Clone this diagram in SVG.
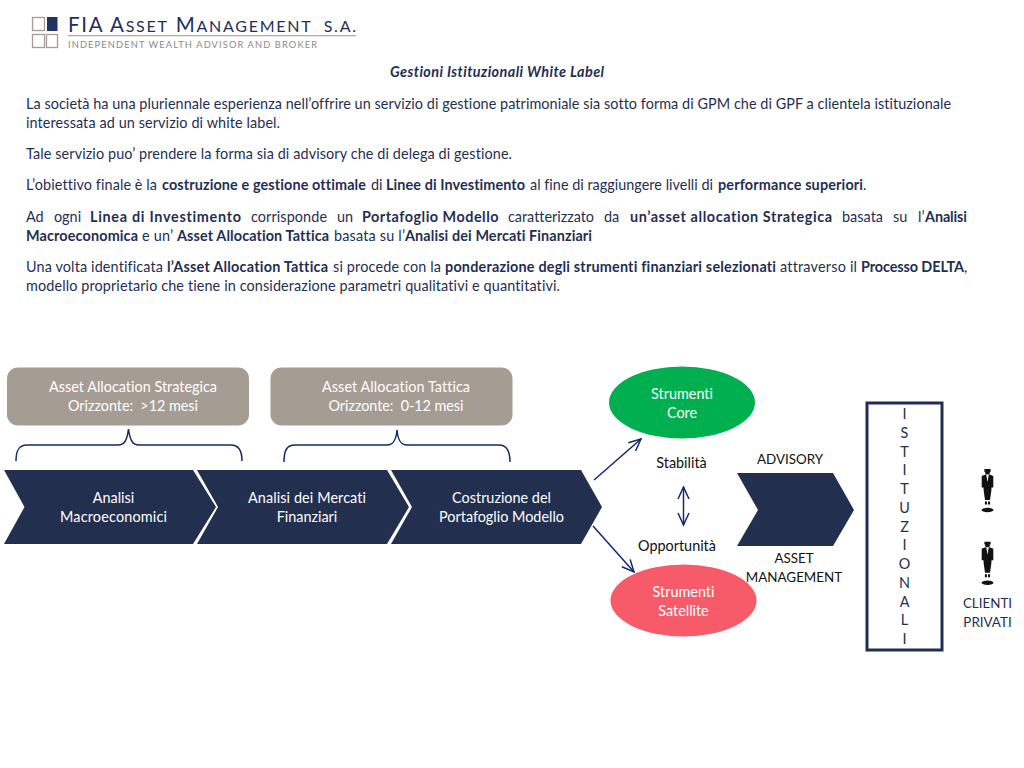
<svg xmlns="http://www.w3.org/2000/svg" width="1024" height="768" viewBox="0 0 1024 768">
<defs>
<marker id="arr" markerUnits="userSpaceOnUse" markerWidth="16" markerHeight="16" refX="14" refY="8" orient="auto-start-reverse"><path d="M2 2.500L14 8L2 13.500" fill="none" stroke="#12296b" stroke-width="1.500"/></marker>
<g id="person"><circle cx="0" cy="-14.500" r="2.400" fill="#111"/><rect x="-3" y="-18" width="6" height="2.200" fill="#111"/><rect x="-3.500" y="-16.200" width="7" height="0.800" fill="#111"/><path d="M-5.800-11L-2-12.500H2L5.800-11L5.800 0.500L4 0.500L3.800 4L2.500 13H-2.500L-3.800 4L-4 0.500L-5.800 0.500Z" fill="#111"/><path d="M-1.300-12.500H1.300L0-5Z" fill="#fff"/><path d="M-2.600 14.500H-0.500V17.500H-2.600ZM0.500 14.500H2.600V17.500H0.500Z" fill="#111"/><ellipse cx="0" cy="23" rx="6" ry="2.200" fill="#111"/></g>
</defs>
<style>
text{font-family:Lato,"Open Sans","Liberation Sans",sans-serif;font-size:14.4px;font-variant-ligatures:none;white-space:pre}
.b{fill:#1f2f52}
.bb{font-weight:700;fill:#1f2f52}
.w{fill:#fff;text-anchor:middle}
.d{fill:#111;text-anchor:middle}
.n{fill:#1f2f52;text-anchor:middle}
.caps{font-size:13.400px}
.chev{fill:#222f4f}
.box{fill:#a59c94}
.brace{fill:none;stroke:#12296b;stroke-width:1.500}
.conn{fill:none;stroke:#12296b;stroke-width:1.500}
</style>
<rect width="1024" height="768" fill="#fff"/>
<g id="logo">
<rect x="32.500" y="17.500" width="12" height="13" fill="none" stroke="#a59c94" stroke-width="1.300"/>
<rect x="47" y="17" width="10.500" height="14" fill="#1f3463"/>
<rect x="32.500" y="34.500" width="12" height="13" fill="none" stroke="#a59c94" stroke-width="1.300"/>
<rect x="46.500" y="34.500" width="11" height="13" fill="none" stroke="#a59c94" stroke-width="1.300"/>
<text x="68" y="31.500" fill="#1f3058" style="font-size:20.500px" textLength="288" lengthAdjust="spacing">FIA A<tspan style="font-size:16px">SSET</tspan> M<tspan style="font-size:16px">ANAGEMENT  S.A.</tspan></text>
<rect x="68" y="35" width="288" height="1.300" fill="#b5ad9f"/>
<text x="68" y="47.500" fill="#8e8a86" style="font-size:9.300px" textLength="249" lengthAdjust="spacing">INDEPENDENT WEALTH ADVISOR AND BROKER</text>
</g>
<g id="testo">
<text x="390" y="77" class="bb" font-style="italic" textLength="214" lengthAdjust="spacing">Gestioni Istituzionali White Label</text>
<text x="26" y="109" class="b" textLength="925" lengthAdjust="spacing">La società ha una pluriennale esperienza nell’offrire un servizio di gestione patrimoniale sia sotto forma di GPM che di GPF a clientela istituzionale</text>
<text x="26" y="128" class="b" textLength="254" lengthAdjust="spacing">interessata ad un servizio di white label.</text>
<text x="26" y="159" class="b" textLength="486" lengthAdjust="spacing">Tale servizio puo’ prendere la forma sia di advisory che di delega di gestione.</text>
<text x="26" y="190" class="b" textLength="131" lengthAdjust="spacing">L’obiettivo finale è la</text>
<text x="162" y="190" class="bb" textLength="204" lengthAdjust="spacing">costruzione e gestione ottimale</text>
<text x="371" y="190" class="b">di</text>
<text x="386" y="190" class="bb" textLength="139" lengthAdjust="spacing">Linee di Investimento</text>
<text x="530" y="190" class="b" textLength="183" lengthAdjust="spacing">al fine di raggiungere livelli di</text>
<text x="718" y="190" class="bb" textLength="145" lengthAdjust="spacing">performance superiori</text>
<text x="863" y="190" class="b">.</text>
<text x="26" y="222" class="b">Ad</text>
<text x="54" y="222" class="b">ogni</text>
<text x="90" y="222" class="bb" textLength="151" lengthAdjust="spacing">Linea di Investimento</text>
<text x="251" y="222" class="b" textLength="76" lengthAdjust="spacing">corrisponde</text>
<text x="337" y="222" class="b">un</text>
<text x="362" y="222" class="bb" textLength="136.500" lengthAdjust="spacing">Portafoglio Modello</text>
<text x="508" y="222" class="b" textLength="86" lengthAdjust="spacing">caratterizzato</text>
<text x="604" y="222" class="b">da</text>
<text x="630" y="222" class="bb" textLength="202" lengthAdjust="spacing">un’asset allocation Strategica</text>
<text x="842" y="222" class="b" textLength="41" lengthAdjust="spacing">basata</text>
<text x="893" y="222" class="b">su</text>
<text x="918" y="222" class="b">l’</text>
<text x="925" y="222" class="bb" textLength="42" lengthAdjust="spacing">Analisi</text>
<text x="26" y="241" class="bb" textLength="112" lengthAdjust="spacing">Macroeconomica</text>
<text x="142" y="241" class="b" textLength="31" lengthAdjust="spacing">e un’</text>
<text x="177" y="241" class="bb" textLength="152" lengthAdjust="spacing">Asset Allocation Tattica</text>
<text x="334" y="241" class="b" textLength="71" lengthAdjust="spacing">basata su l’</text>
<text x="405" y="241" class="bb" textLength="187" lengthAdjust="spacing">Analisi dei Mercati Finanziari</text>
<text x="26" y="272" class="b" textLength="137" lengthAdjust="spacing">Una volta identificata</text>
<text x="167" y="272" class="bb" textLength="161" lengthAdjust="spacing">l’Asset Allocation Tattica</text>
<text x="333" y="272" class="b" textLength="108" lengthAdjust="spacing">si procede con la</text>
<text x="445" y="272" class="bb" textLength="331" lengthAdjust="spacing">ponderazione degli strumenti finanziari selezionati</text>
<text x="780" y="272" class="b" textLength="77" lengthAdjust="spacing">attraverso il</text>
<text x="861" y="272" class="bb" textLength="103" lengthAdjust="spacing">Processo DELTA</text>
<text x="964" y="272" class="b">,</text>
<text x="26" y="291" class="b" textLength="534" lengthAdjust="spacing">modello proprietario che tiene in considerazione parametri qualitativi e quantitativi.</text>
</g>
<g id="connectors">
<path class="brace" d="M16 461C16 450 19 445 27 445H118C124 445 127 441 128.500 429C130 441 133 445 139 445H231C238 445 242 450 242 461"/>
<path class="brace" d="M284 462C284 450 287 445 295 445H387C393 445 396 441 397 430C398 441 401 445 407 445H499C506 445 510 450 510 462"/>
<path class="conn" d="M594 480L641 439" marker-end="url(#arr)"/>
<path class="conn" d="M593 526L634 572" marker-end="url(#arr)"/>
<path class="conn" d="M683.500 487V525" marker-start="url(#arr)" marker-end="url(#arr)"/>
</g>
<g id="asset-strategica"><rect class="box" x="7" y="367.500" width="242" height="58" rx="11"/><text class="w" x="133" y="392" textLength="168" lengthAdjust="spacing">Asset Allocation Strategica</text><text class="w" x="133" y="411" textLength="130" lengthAdjust="spacing">Orizzonte:  &gt;12 mesi</text></g>
<g id="asset-tattica"><rect class="box" x="270.500" y="367.500" width="242" height="58" rx="11"/><text class="w" x="396" y="392" textLength="148" lengthAdjust="spacing">Asset Allocation Tattica</text><text class="w" x="396" y="411" textLength="135" lengthAdjust="spacing">Orizzonte:  0-12 mesi</text></g>
<g id="analisi-macro"><path class="chev" d="M4 470H193L216 507L193 544H4L24.500 507Z"/><text class="w" x="113.500" y="503">Analisi</text><text class="w" x="113.500" y="522" textLength="107" lengthAdjust="spacing">Macroeconomici</text></g>
<g id="analisi-mercati"><path class="chev" d="M197 470H387L409 507L387 544H197L218 507Z"/><text class="w" x="307" y="503" textLength="118" lengthAdjust="spacing">Analisi dei Mercati</text><text class="w" x="307" y="522">Finanziari</text></g>
<g id="portafoglio"><path class="chev" d="M391 470H581L602 507L581 544H391L412 507Z"/><text class="w" x="501.500" y="503">Costruzione del</text><text class="w" x="501.500" y="522">Portafoglio Modello</text></g>
<g id="core"><ellipse cx="682" cy="402.500" rx="73" ry="36" fill="#00b050"/><text class="w" x="682" y="399">Strumenti</text><text class="w" x="682" y="417.500">Core</text></g>
<g id="satellite"><ellipse cx="683.500" cy="600.500" rx="73" ry="36" fill="#f75b6a"/><text class="w" x="683.500" y="597">Strumenti</text><text class="w" x="683.500" y="616">Satellite</text></g>
<g id="stabilita"><text class="d" x="681.500" y="468">Stabilità</text></g>
<g id="opportunita"><text class="d" x="677" y="551">Opportunità</text></g>
<g id="advisory"><path class="chev" d="M737 473H833L854 510L833 546H737L758 510Z"/><text class="d caps" x="790" y="463.500">ADVISORY</text><text class="d caps" x="794" y="563">ASSET</text><text class="d caps" x="794" y="581.500">MANAGEMENT</text></g>
<g id="istituzionali"><rect x="867" y="403" width="75" height="247" fill="#fff" stroke="#1f2f52" stroke-width="3"/>
<text class="n" x="904.500" y="419">I</text><text class="n" x="904.500" y="438">S</text><text class="n" x="904.500" y="457">T</text><text class="n" x="904.500" y="475">I</text><text class="n" x="904.500" y="494">T</text><text class="n" x="904.500" y="513">U</text><text class="n" x="904.500" y="532">Z</text><text class="n" x="904.500" y="550">I</text><text class="n" x="904.500" y="569">O</text><text class="n" x="904.500" y="588">N</text><text class="n" x="904.500" y="607">A</text><text class="n" x="904.500" y="625">L</text><text class="n" x="904.500" y="644">I</text></g>
<g id="clienti"><use href="#person" x="987.500" y="487"/><use href="#person" x="987.500" y="559.700"/><text class="n caps" x="987.500" y="608">CLIENTI</text><text class="n caps" x="987.500" y="627">PRIVATI</text></g>
</svg>
